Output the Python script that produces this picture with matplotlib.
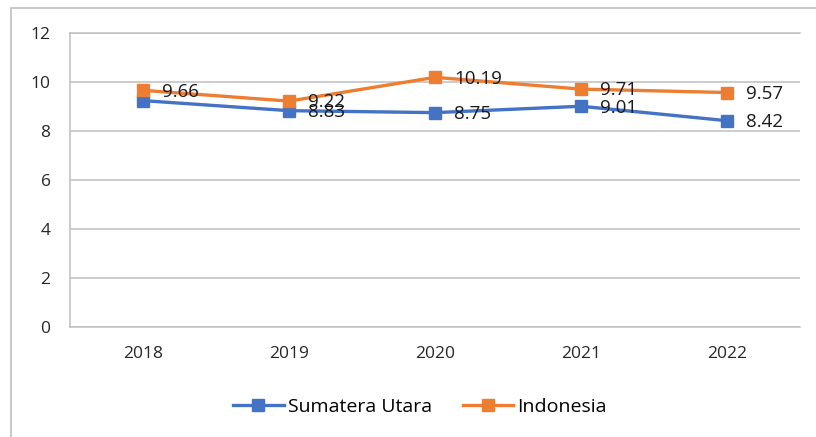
import matplotlib
matplotlib.use('Agg')
import matplotlib.pyplot as plt
from matplotlib.patches import Rectangle

years = ['2018', '2019', '2020', '2021', '2022']
sumut = [9.24, 8.83, 8.75, 9.01, 8.42]
sumut_labels = ['', '8.83', '8.75', '9.01', '8.42']
indonesia = [9.66, 9.22, 10.19, 9.71, 9.57]
indonesia_labels = ['9.66', '9.22', '10.19', '9.71', '9.57']

plt.rcParams['font.family'] = ['Open Sans', 'DejaVu Sans']

fig = plt.figure(figsize=(8.16, 4.37), dpi=100)
ax = fig.add_axes([70/816, 1 - 327/437, 730/816, 294/437])

# outer chart frame (cropped at right/bottom)
fig.patches.append(Rectangle((11/816, -0.1), 1.2, 1 - 8/437 + 0.1,
                             transform=fig.transFigure, fill=False,
                             edgecolor='#bfbfbf', linewidth=1.2))

x = list(range(len(years)))
ax.plot(x, sumut, color='#4472C4', linewidth=2.4, marker='s', markersize=8.5,
        label='Sumatera Utara', zorder=3)
ax.plot(x, indonesia, color='#ED7D31', linewidth=2.4, marker='s', markersize=8.5,
        label='Indonesia', zorder=3)

for xi, v, t in zip(x, sumut, sumut_labels):
    if t:
        ax.annotate(t, (xi, v), xytext=(14, -1), textcoords='offset points',
                    va='center', ha='left', fontsize=13.5, color='#1a1a1a', zorder=4)
for xi, v, t in zip(x, indonesia, indonesia_labels):
    ax.annotate(t, (xi, v), xytext=(14, -1), textcoords='offset points',
                va='center', ha='left', fontsize=13.5, color='#1a1a1a', zorder=4)

ax.set_xlim(-0.5, 4.5)
ax.set_ylim(0, 12)
ax.set_yticks(range(0, 13, 2))
ax.set_xticks(x)
ax.set_xticklabels(years)
ax.tick_params(length=0, labelsize=12.5, colors='#262626')
ax.tick_params(axis='y', pad=14)
ax.tick_params(axis='x', pad=14)
ax.grid(axis='y', color='#bfbfbf', linewidth=1.1)
ax.set_axisbelow(True)
ax.spines['right'].set_visible(False)
for s in ['left', 'top', 'bottom']:
    ax.spines[s].set_color('#bfbfbf')
    ax.spines[s].set_linewidth(1.1)

fig.legend(loc='center', bbox_to_anchor=(420/816, 1 - 407/437), ncol=2,
           frameon=False, fontsize=14, handlelength=2.6, columnspacing=1.6,
           handletextpad=0.2)

fig.savefig('out.png', dpi=100)
